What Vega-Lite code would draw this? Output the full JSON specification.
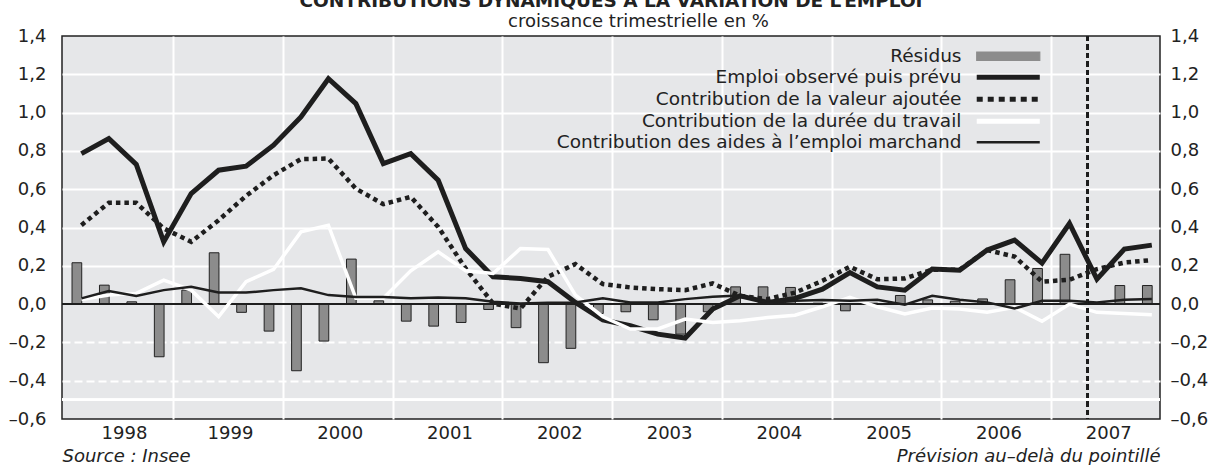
{
  "$schema": "https://vega.github.io/schema/vega-lite/v6.json",
  "width": 1098,
  "height": 383,
  "autosize": {"type": "none"},
  "padding": {"left": 62, "top": 36, "right": 61, "bottom": 46},
  "background": "white",
  "config": {
    "font": "DejaVu Sans",
    "view": {"stroke": "#222", "strokeWidth": 1.5, "fill": "#e6e7e9"},
    "axis": {"labelFont": "DejaVu Sans", "labelFontSize": 18, "labelColor": "#222", "ticks": false, "domain": false, "titleColor": "#222"},
    "legend": {
      "orient": "none", "legendX": 937, "legendY": 11, "title": null, "padding": 0,
      "labelFont": "DejaVu Sans", "labelFontSize": 18.5, "labelColor": "#222", "labelLimit": 0,
      "labelAlign": "right", "labelOffset": -56,
      "symbolType": "M-3.94,0H3.94", "symbolSize": 256, "symbolStrokeWidth": 5,
      "rowPadding": 1
    }
  },
  "title": {"text": "CONTRIBUTIONS DYNAMIQUES À LA VARIATION DE L’EMPLOI", "anchor": "middle", "offset": 2, "font": "DejaVu Sans", "fontSize": 18.5, "fontWeight": "bold", "color": "#222"},
  "data": {"values": [
    {"t": 1998.125, "res": 0.216, "emp": 0.786, "va": 0.412, "dur": 0.024, "aid": 0.030},
    {"t": 1998.375, "res": 0.099, "emp": 0.864, "va": 0.529, "dur": 0.047, "aid": 0.068},
    {"t": 1998.625, "res": 0.012, "emp": 0.730, "va": 0.529, "dur": 0.056, "aid": 0.043},
    {"t": 1998.875, "res": -0.275, "emp": 0.325, "va": 0.395, "dur": 0.125, "aid": 0.073},
    {"t": 1999.125, "res": 0.073, "emp": 0.577, "va": 0.325, "dur": 0.073, "aid": 0.090},
    {"t": 1999.375, "res": 0.268, "emp": 0.699, "va": 0.438, "dur": -0.066, "aid": 0.061},
    {"t": 1999.625, "res": -0.043, "emp": 0.720, "va": 0.565, "dur": 0.117, "aid": 0.060},
    {"t": 1999.875, "res": -0.141, "emp": 0.830, "va": 0.673, "dur": 0.181, "aid": 0.073},
    {"t": 2000.125, "res": -0.348, "emp": 0.977, "va": 0.757, "dur": 0.377, "aid": 0.083},
    {"t": 2000.375, "res": -0.193, "emp": 1.177, "va": 0.760, "dur": 0.412, "aid": 0.047},
    {"t": 2000.625, "res": 0.235, "emp": 1.047, "va": 0.603, "dur": 0.030, "aid": 0.037},
    {"t": 2000.875, "res": 0.017, "emp": 0.734, "va": 0.522, "dur": 0.030, "aid": 0.037},
    {"t": 2001.125, "res": -0.089, "emp": 0.786, "va": 0.560, "dur": 0.174, "aid": 0.031},
    {"t": 2001.375, "res": -0.115, "emp": 0.647, "va": 0.403, "dur": 0.273, "aid": 0.035},
    {"t": 2001.625, "res": -0.096, "emp": 0.290, "va": 0.186, "dur": 0.174, "aid": 0.030},
    {"t": 2001.875, "res": -0.028, "emp": 0.143, "va": 0.003, "dur": 0.160, "aid": 0.012},
    {"t": 2002.125, "res": -0.123, "emp": 0.134, "va": -0.023, "dur": 0.290, "aid": 0.003},
    {"t": 2002.375, "res": -0.306, "emp": 0.117, "va": 0.143, "dur": 0.285, "aid": 0.007},
    {"t": 2002.625, "res": -0.231, "emp": 0.009, "va": 0.209, "dur": 0.047, "aid": 0.009},
    {"t": 2002.875, "res": -0.049, "emp": -0.083, "va": 0.104, "dur": -0.066, "aid": 0.030},
    {"t": 2003.125, "res": -0.040, "emp": -0.113, "va": 0.087, "dur": -0.130, "aid": 0.009},
    {"t": 2003.375, "res": -0.082, "emp": -0.157, "va": 0.078, "dur": -0.130, "aid": 0.009},
    {"t": 2003.625, "res": -0.157, "emp": -0.177, "va": 0.073, "dur": -0.078, "aid": 0.026},
    {"t": 2003.875, "res": -0.040, "emp": -0.026, "va": 0.108, "dur": -0.096, "aid": 0.038},
    {"t": 2004.125, "res": 0.090, "emp": 0.043, "va": 0.043, "dur": -0.087, "aid": 0.045},
    {"t": 2004.375, "res": 0.090, "emp": 0.009, "va": 0.026, "dur": -0.070, "aid": 0.005},
    {"t": 2004.625, "res": 0.087, "emp": 0.030, "va": 0.060, "dur": -0.058, "aid": 0.017},
    {"t": 2004.875, "res": 0.005, "emp": 0.078, "va": 0.122, "dur": -0.014, "aid": 0.021},
    {"t": 2005.125, "res": -0.035, "emp": 0.165, "va": 0.195, "dur": 0.035, "aid": 0.017},
    {"t": 2005.375, "res": 0.005, "emp": 0.090, "va": 0.130, "dur": -0.014, "aid": 0.023},
    {"t": 2005.625, "res": 0.045, "emp": 0.073, "va": 0.134, "dur": -0.052, "aid": -0.003},
    {"t": 2005.875, "res": 0.022, "emp": 0.183, "va": 0.180, "dur": -0.021, "aid": 0.043},
    {"t": 2006.125, "res": 0.015, "emp": 0.177, "va": 0.180, "dur": -0.026, "aid": 0.023},
    {"t": 2006.375, "res": 0.027, "emp": 0.282, "va": 0.282, "dur": -0.043, "aid": 0.009},
    {"t": 2006.625, "res": 0.127, "emp": 0.334, "va": 0.248, "dur": -0.017, "aid": -0.023},
    {"t": 2006.875, "res": 0.186, "emp": 0.214, "va": 0.117, "dur": -0.090, "aid": 0.017},
    {"t": 2007.125, "res": 0.260, "emp": 0.421, "va": 0.127, "dur": 0.000, "aid": 0.017},
    {"t": 2007.375, "res": 0.000, "emp": 0.130, "va": 0.183, "dur": -0.043, "aid": 0.009},
    {"t": 2007.625, "res": 0.097, "emp": 0.287, "va": 0.217, "dur": -0.049, "aid": 0.023},
    {"t": 2007.875, "res": 0.097, "emp": 0.308, "va": 0.230, "dur": -0.056, "aid": 0.026}
  ]},
  "layer": [
    {
      "mark": {"type": "rule", "color": "white", "strokeWidth": 2},
      "encoding": {"y": {"datum": -0.5, "type": "quantitative", "axis": null}}
    },
    {
      "mark": {"type": "bar", "orient": "vertical", "width": 9.7, "stroke": "#222", "strokeWidth": 1},
      "encoding": {
        "x": {
          "field": "t", "type": "quantitative",
          "scale": {"domain": [1998.035, 2007.945], "nice": false, "zero": false},
          "axis": {
            "values": [1998.035, 1999, 2000, 2001, 2002, 2003, 2004, 2005, 2006, 2007],
            "grid": true, "gridColor": "white", "gridWidth": 2,
            "gridOpacity": {"condition": {"test": "datum.value < 1998.5", "value": 0}, "value": 1},
            "labelExpr": "floor(datum.value)", "labelOffset": 57, "labelPadding": 5, "labelAlign": "center", "labelFlush": false, "labelOverlap": false,
            "title": "croissance trimestrielle en %",
            "titleX": 576, "titleY": -393, "titleAlign": "center", "titleBaseline": "alphabetic",
            "titleFont": "DejaVu Sans", "titleFontSize": 18, "titleFontWeight": "normal"
          }
        },
        "y": {
          "field": "res", "type": "quantitative",
          "scale": {"domain": [-0.6, 1.4], "nice": false, "zero": false},
          "axis": {
            "orient": "left",
            "values": [-0.6, -0.4, -0.2, 0, 0.2, 0.4, 0.6, 0.8, 1.0, 1.2, 1.4],
            "grid": true, "gridColor": "white", "gridWidth": 2,
            "gridDash": {"condition": {"test": "datum.value < 0", "value": [8, 4]}, "value": []},
            "gridOpacity": {"condition": {"test": "datum.value == 0 || datum.value > 1.3 || datum.value < -0.55", "value": 0}, "value": 1},
            "labelExpr": "(datum.value < 0 ? '–' : '') + replace(format(abs(datum.value), '.1f'), '.', ',')",
            "labelPadding": 16,
            "title": "Source : Insee", "titleAngle": 0, "titleX": 0, "titleY": 425,
            "titleAlign": "left", "titleBaseline": "alphabetic", "titleFont": "DejaVu Sans",
            "titleFontSize": 18, "titleFontWeight": "normal", "titleFontStyle": "italic"
          }
        },
        "color": {
          "datum": "Résidus", "type": "nominal",
          "scale": {
            "domain": ["Résidus", "Emploi observé puis prévu", "Contribution de la valeur ajoutée", "Contribution de la durée du travail", "Contribution des aides à l’emploi marchand"],
            "range": ["#8c8c8c", "#1e1e1e", "#1e1e1e", "#ffffff", "#1e1e1e"]
          },
          "legend": {
            "encode": {"symbols": {"update": {
              "shape": {"signal": "datum.label == 'Résidus' ? 'M-3.94,-0.53H3.94V0.53H-3.94Z' : 'M-3.94,0H3.94'"},
              "strokeWidth": {"signal": "datum.label == 'Résidus' ? 1.2 : datum.label == 'Contribution des aides à l’emploi marchand' ? 2.5 : 5"},
              "strokeDash": {"signal": "datum.label == 'Contribution de la valeur ajoutée' ? [6, 5] : [1, 0]"}
            }}}
          }
        }
      }
    },
    {
      "mark": {"type": "rule", "color": "#1e1e1e", "strokeWidth": 2},
      "encoding": {"y": {"datum": 0, "type": "quantitative", "axis": null}}
    },
    {
      "mark": {"type": "line", "strokeWidth": 5, "xOffset": 4.5, "strokeJoin": "miter", "strokeCap": "butt"},
      "encoding": {
        "x": {"field": "t", "type": "quantitative"},
        "y": {
          "field": "emp", "type": "quantitative",
          "axis": {
            "orient": "right",
            "values": [-0.6, -0.4, -0.2, 0, 0.2, 0.4, 0.6, 0.8, 1.0, 1.2, 1.4],
            "grid": false,
            "labelExpr": "(datum.value < 0 ? '–' : '') + replace(format(abs(datum.value), '.1f'), '.', ',')",
            "labelPadding": 10,
            "title": "Prévision au–delà du pointillé", "titleAngle": 0, "titleX": 0, "titleY": 425,
            "titleAlign": "right", "titleBaseline": "alphabetic", "titleFont": "DejaVu Sans",
            "titleFontSize": 18, "titleFontWeight": "normal", "titleFontStyle": "italic"
          }
        },
        "color": {
          "datum": "Emploi observé puis prévu", "type": "nominal",
          "legend": {
            "encode": {"symbols": {"update": {
              "shape": {"signal": "datum.label == 'Résidus' ? 'M-3.94,-0.53H3.94V0.53H-3.94Z' : 'M-3.94,0H3.94'"},
              "strokeWidth": {"signal": "datum.label == 'Résidus' ? 1.2 : datum.label == 'Contribution des aides à l’emploi marchand' ? 2.5 : 5"},
              "strokeDash": {"signal": "datum.label == 'Contribution de la valeur ajoutée' ? [6, 5] : [1, 0]"}
            }}}
          }
        }
      }
    },
    {
      "mark": {"type": "line", "strokeWidth": 4.5, "strokeDash": [4.5, 4], "xOffset": 4.5, "strokeJoin": "miter", "strokeCap": "butt"},
      "encoding": {
        "x": {"field": "t", "type": "quantitative"},
        "y": {"field": "va", "type": "quantitative", "axis": null},
        "color": {
          "datum": "Contribution de la valeur ajoutée", "type": "nominal",
          "legend": {
            "encode": {"symbols": {"update": {
              "shape": {"signal": "datum.label == 'Résidus' ? 'M-3.94,-0.53H3.94V0.53H-3.94Z' : 'M-3.94,0H3.94'"},
              "strokeWidth": {"signal": "datum.label == 'Résidus' ? 1.2 : datum.label == 'Contribution des aides à l’emploi marchand' ? 2.5 : 5"},
              "strokeDash": {"signal": "datum.label == 'Contribution de la valeur ajoutée' ? [6, 5] : [1, 0]"}
            }}}
          }
        }
      }
    },
    {
      "mark": {"type": "line", "strokeWidth": 3.5, "xOffset": 4.5, "strokeJoin": "miter"},
      "encoding": {
        "x": {"field": "t", "type": "quantitative"},
        "y": {"field": "dur", "type": "quantitative", "axis": null},
        "color": {
          "datum": "Contribution de la durée du travail", "type": "nominal",
          "legend": {
            "encode": {"symbols": {"update": {
              "shape": {"signal": "datum.label == 'Résidus' ? 'M-3.94,-0.53H3.94V0.53H-3.94Z' : 'M-3.94,0H3.94'"},
              "strokeWidth": {"signal": "datum.label == 'Résidus' ? 1.2 : datum.label == 'Contribution des aides à l’emploi marchand' ? 2.5 : 5"},
              "strokeDash": {"signal": "datum.label == 'Contribution de la valeur ajoutée' ? [6, 5] : [1, 0]"}
            }}}
          }
        }
      }
    },
    {
      "mark": {"type": "line", "strokeWidth": 2.5, "xOffset": 4.5, "strokeJoin": "miter"},
      "encoding": {
        "x": {"field": "t", "type": "quantitative"},
        "y": {"field": "aid", "type": "quantitative", "axis": null},
        "color": {
          "datum": "Contribution des aides à l’emploi marchand", "type": "nominal",
          "legend": {
            "encode": {"symbols": {"update": {
              "shape": {"signal": "datum.label == 'Résidus' ? 'M-3.94,-0.53H3.94V0.53H-3.94Z' : 'M-3.94,0H3.94'"},
              "strokeWidth": {"signal": "datum.label == 'Résidus' ? 1.2 : datum.label == 'Contribution des aides à l’emploi marchand' ? 2.5 : 5"},
              "strokeDash": {"signal": "datum.label == 'Contribution de la valeur ajoutée' ? [6, 5] : [1, 0]"}
            }}}
          }
        }
      }
    },
    {
      "mark": {"type": "rule", "color": "#1e1e1e", "strokeWidth": 1.5, "strokeDash": [5, 3.5]},
      "encoding": {"x": {"datum": 2007.33, "type": "quantitative"}}
    }
  ],
  "resolve": {"axis": {"y": "independent"}}
}
